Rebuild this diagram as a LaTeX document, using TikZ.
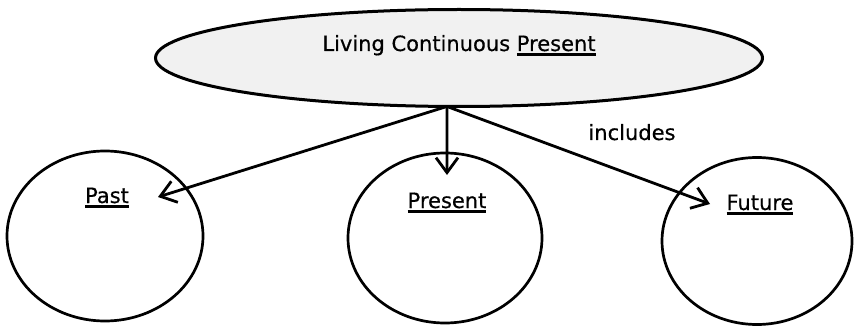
\documentclass[tikz,border=0pt]{standalone}
\usepackage{fontspec}
\setmainfont[FakeBold=0.5]{DejaVu Sans}
\usetikzlibrary{shapes.geometric,arrows.meta}
\newcommand\ulx[1]{\setbox0\hbox{#1}\rlap{\rule[-5pt]{\wd0}{2.6pt}}\box0}
\begin{document}
\begin{tikzpicture}[x=1pt,y=-1pt,
  bubble/.style={ellipse, draw=black, line width=2.7pt, inner sep=0pt, outer sep=0pt},
  lbl/.style={font=\fontsize{21}{25}\selectfont, inner sep=0pt, outer sep=0pt, text=black, anchor=base},
  link/.style={line width=2.8pt, -{Straight Barb[length=15pt,width=22pt,line width=2.8pt]}}]
\useasboundingbox (0,0) rectangle (854,326);
% top ellipse
\node[bubble, line width=3pt, fill=gray!11, minimum width=607pt, minimum height=97pt] (top) at (459,58) {};
\node[lbl] (tTop) at (459,51) {Living Continuous \ulx{Present}};
% circles
\node[bubble, minimum width=196pt, minimum height=170pt] (past) at (105,236) {};
\node[bubble, minimum width=194pt, minimum height=170pt] (present) at (445,238) {};
\node[bubble, minimum width=190pt, minimum height=167pt] (future) at (757,241) {};
% labels
\node[lbl] (lPast) at (107,203) {\ulx{Past}};
\node[lbl] (lPresent) at (447,208) {\ulx{Present}};
\node[lbl] (lFuture) at (760,210) {\ulx{Future}};
\node[lbl] (lIncl) at (632,140) {includes};
% connectors
\coordinate (o) at (top.256);
\coordinate (tPast) at (158,197);
\coordinate (tPresent) at (447,175);
\coordinate (tFuture) at (710,204);
\draw[link] (o) -- (tPast);
\draw[link] (o) -- (tPresent);
\draw[link] (o) -- (tFuture);
\end{tikzpicture}
\end{document}
